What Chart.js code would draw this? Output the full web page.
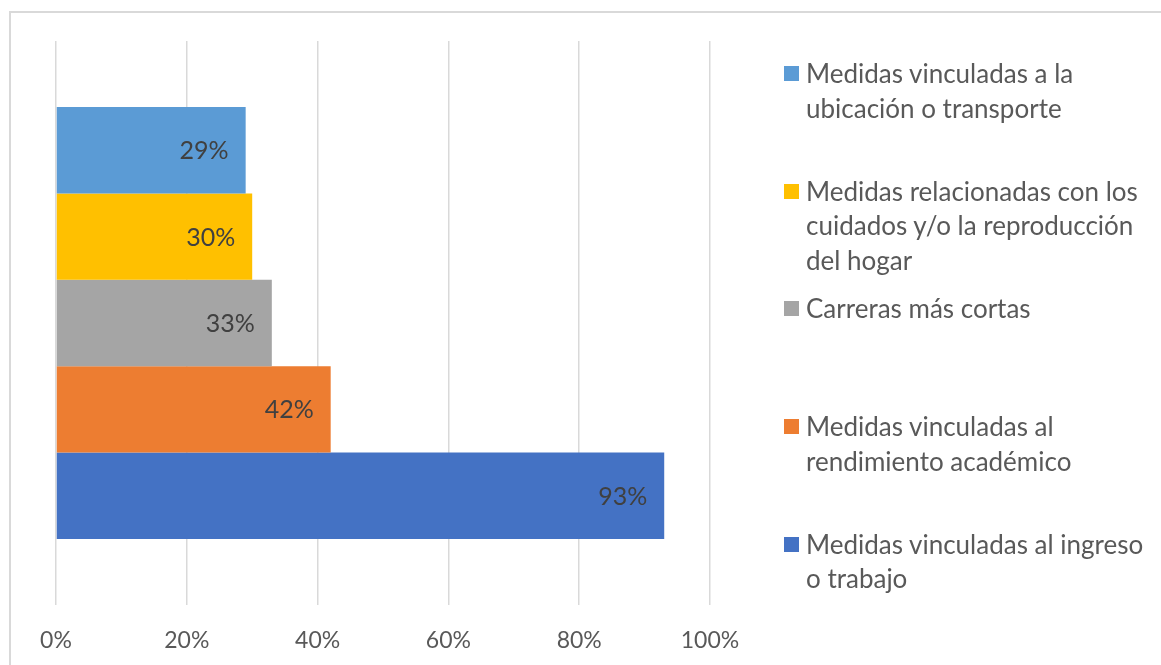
<!DOCTYPE html>
<html>
<head>
<meta charset="utf-8">
<script src="https://cdn.jsdelivr.net/npm/chart.js@4/dist/chart.umd.min.js"></script>
<style>
  html, body { margin: 0; padding: 0; background: #fff; }
  #wrap { position: relative; width: 1161px; height: 665px; overflow: hidden; }
  #frame { position: absolute; left: 9px; top: 11px; width: 1200px; height: 700px; border: 2px solid #d9d9d9; box-sizing: border-box; }
  #chart { position: absolute; left: 0; top: 0; }
  #legend { position: absolute; left: 784px; top: 0; font-family: Lato, "Open Sans", sans-serif; font-size: 26px; color: #595959; }
  .item { position: absolute; left: 0; width: 377px; line-height: 34.5px; }
  .box { position: absolute; left: 0; top: 10px; width: 15px; height: 15px; }
  .txt { position: absolute; left: 22px; width: 360px; white-space: nowrap; }
</style>
</head>
<body>
<div id="wrap">
  <div id="frame"></div>
  <canvas id="chart" width="1161" height="665"></canvas>
  <div id="legend"></div>
</div>
<script>
const categories = ['']
const seriesNames = [
    'Medidas vinculadas a la ubicación o transporte',
    'Medidas relacionadas con los cuidados y/o la reproducción del hogar',
    'Carreras más cortas',
    'Medidas vinculadas al rendimiento académico',
    'Medidas vinculadas al ingreso o trabajo'
]
const legendLines = [
    ['Medidas vinculadas a la', 'ubicación o transporte'],
    ['Medidas relacionadas con los', 'cuidados y/o la reproducción', 'del hogar'],
    ['Carreras más cortas'],
    ['Medidas vinculadas al', 'rendimiento académico'],
    ['Medidas vinculadas al ingreso', 'o trabajo']
]
const values = [29, 30, 33, 42, 93]
const colors = ['#5b9bd5', '#ffc000', '#a5a5a5', '#ed7d31', '#4472c4']
const xTicks = [0, 20, 40, 60, 80, 100]

// legend on the right, one fixed slot per item
const legend = document.getElementById('legend')
legend.innerHTML = ''
legendLines.forEach((lines, i) => {
    legend.innerHTML += `
        <div class="item" style="top:${56 + i * 117.7}px">
            <div class="box" style="background:${colors[i]}"></div>
            <div class="txt">${lines.join('<br>')}</div>
        </div>
    `
})

const barLabels = {
    id: 'barLabels',
    afterDatasetsDraw(chart) {
        const ctx = chart.ctx
        ctx.save()
        ctx.font = '25px Lato, "Open Sans", sans-serif'
        ctx.fillStyle = '#404040'
        ctx.textAlign = 'right'
        ctx.textBaseline = 'middle'
        chart.data.datasets.forEach((ds, i) => {
            const bar = chart.getDatasetMeta(i).data[0]
            ctx.fillText(ds.data[0] + '%', bar.x - 17, bar.y + 1)
        })
        ctx.restore()
    }
}

const ctx = document.getElementById('chart').getContext('2d')
new Chart(ctx, {
    type: 'bar',
    data: {
        labels: categories,
        datasets: values.map((v, i) => ({
            label: seriesNames[i],
            data: [v],
            backgroundColor: colors[i],
            barPercentage: 1,
            categoryPercentage: 0.766
        }))
    },
    options: {
        indexAxis: 'y',
        responsive: false,
        animation: false,
        layout: { padding: { left: 56, top: 41, right: 451, bottom: 0 } },
        plugins: {
            legend: { display: false },
            tooltip: { enabled: false }
        },
        scales: {
            x: {
                min: 0,
                max: 100,
                afterBuildTicks: scale => { scale.ticks = xTicks.map(v => ({ value: v })) },
                afterFit: scale => { scale.height = 60 },
                grid: { color: '#d9d9d9', lineWidth: 1.5, drawTicks: false },
                border: { display: false },
                ticks: {
                    padding: 22,
                    color: '#595959',
                    font: { family: 'Lato, "Open Sans", sans-serif', size: 23 },
                    callback: v => v + '%'
                }
            },
            y: {
                display: false
            }
        }
    },
    plugins: [barLabels]
})
</script>
</body>
</html>
